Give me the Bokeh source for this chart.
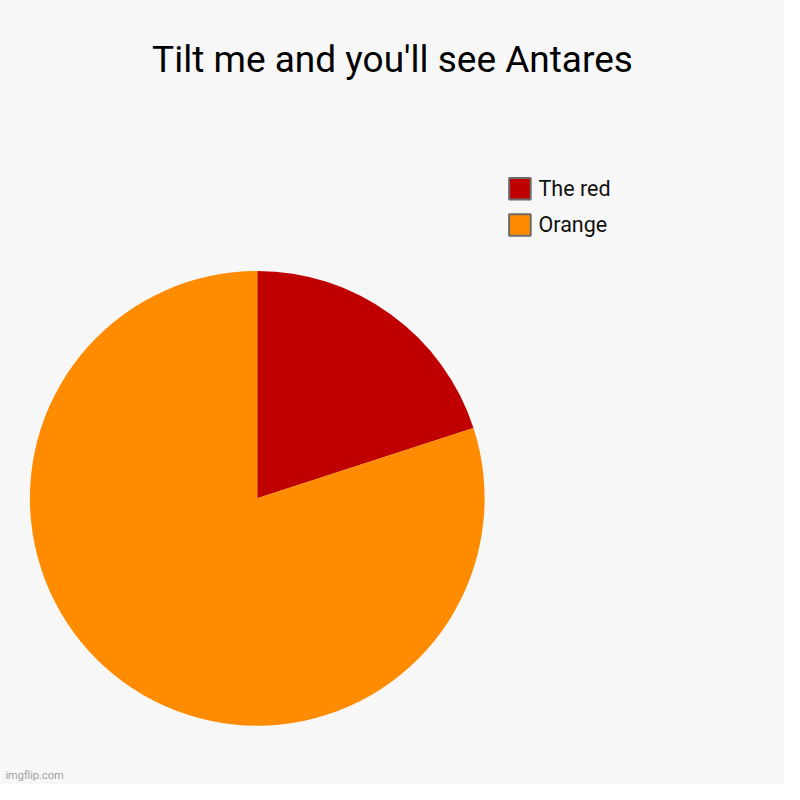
import math
from bokeh.plotting import figure
from bokeh.models import Range1d, ColumnDataSource
from bokeh.core.properties import value
from bokeh.embed import file_html
from bokeh.resources import INLINE

title_text = "Tilt me and you'll see Antares"
categories = ["The red", "Orange"]
values = [20, 80]
colors = ["#c00000", "#ff8c00"]

W = H = 784          # pixels on the page
S = 800              # layout units (reference scale)
BG = "#f7f7f7"

p = figure(width=W, height=H, output_backend="svg", toolbar_location=None,
           x_range=Range1d(0, S), y_range=Range1d(0, S),
           x_axis_location=None, y_axis_location=None, min_border=0,
           background_fill_color=BG, border_fill_color=BG, outline_line_color=None)
p.grid.visible = False

# pie: starts at 12 o'clock, goes clockwise
total = sum(values)
starts, ends = [], []
acc = 0.0
for v in values:
    a0 = math.pi / 2 - 2 * math.pi * acc / total
    acc += v
    a1 = math.pi / 2 - 2 * math.pi * acc / total
    starts.append(a0)
    ends.append(a1)

src = ColumnDataSource(dict(cat=categories, val=values, start=starts, end=ends, color=colors))
cx, cy, r = 262, 292, 232
p.wedge(x=cx, y=cy, radius=r, start_angle="start", end_angle="end", direction="clock",
        fill_color="color", line_color=None, source=src)

# title
p.text(x=[400], y=[740], text=[title_text], text_font=value("Roboto"), text_font_size="37px",
       text_color="#000000", text_align="center", text_baseline="alphabetic")

# legend (manual)
lx, ly0, step = 530, 608, 37
ly = [ly0 - i * step for i in range(len(categories))]
p.rect(x=[lx] * len(categories), y=ly, width=22, height=22, fill_color=colors,
       line_color="#6b6b6b", line_width=2)
p.text(x=[lx + 19] * len(categories), y=ly, text=categories, text_font=value("Roboto"),
       text_font_size="21.5px", text_color="#111111", text_align="left", text_baseline="middle")

# watermark
p.text(x=[5], y=[9], text=["imgflip.com"], text_font=value("Roboto"), text_font_size="11px",
       text_color="#a0a0a0", text_align="left", text_baseline="alphabetic")

open("out.html", "w").write(file_html(p, INLINE))
